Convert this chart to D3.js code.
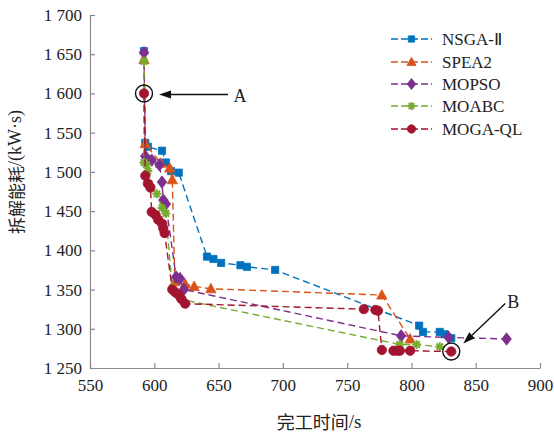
<!DOCTYPE html>
<html>
<head>
<meta charset="utf-8">
<script src="https://cdn.jsdelivr.net/npm/d3@7"></script>
<style>
  html, body { margin: 0; padding: 0; background: #fff; }
  svg { display: block; }
</style>
</head>
<body>
<svg id="chart"></svg>
<script>
(function() {
  var width = 554;
  var height = 435;
  var serif = '"Liberation Serif", "Times New Roman", serif';
  var cjk = '"Noto Sans CJK SC", sans-serif';

  var xTicks = [550, 600, 650, 700, 750, 800, 850, 900];
  var yTicks = [1250, 1300, 1350, 1400, 1450, 1500, 1550, 1600, 1650, 1700];

  var names = ['NSGA-Ⅱ', 'SPEA2', 'MOPSO', 'MOABC', 'MOGA-QL'];
  var colors = ['#0072BD', '#D95319', '#7E2F8E', '#77AC30', '#A2142F'];

  // NSGA-II
  var nsgaX = [592, 593, 595, 606, 609, 613, 619, 641, 646, 652, 667, 672, 694, 806, 809, 822, 826, 831];
  var nsgaY = [1654, 1537, 1532, 1527, 1512, 1501, 1499, 1392, 1389, 1384, 1381, 1379, 1375, 1304, 1296, 1296, 1293, 1288];
  // SPEA2
  var speaX = [592, 593, 605, 612, 614, 616, 624, 631, 644, 777, 799];
  var speaY = [1643, 1536, 1511, 1505, 1490, 1360, 1357, 1354, 1351, 1343, 1287];
  // MOPSO
  var mopsoX = [592, 593, 598, 604, 606, 607, 609, 617, 620, 623, 792, 829, 874];
  var mopsoY = [1652, 1520, 1515, 1509, 1487, 1464, 1459, 1366, 1364, 1350, 1291, 1289, 1287];
  // MOABC
  var moabcX = [592, 592, 594, 595, 602, 606, 609, 614, 617, 622, 791, 804, 822];
  var moabcY = [1641, 1512, 1509, 1501, 1472, 1454, 1447, 1352, 1345, 1337, 1280, 1280, 1277];
  // MOGA-QL
  var mogaX = [592, 593, 595, 597, 598, 601, 603, 606, 607, 608, 614, 616, 619, 621, 624, 763, 772, 774, 777, 786, 789, 791, 799, 831];
  var mogaY = [1600, 1495, 1485, 1480, 1449, 1445, 1439, 1434, 1428, 1422, 1350, 1347, 1343, 1338, 1332, 1325, 1324, 1323, 1273, 1272, 1272, 1272, 1272, 1271];

  var seriesX = [nsgaX, speaX, mopsoX, moabcX, mogaX];
  var seriesY = [nsgaY, speaY, mopsoY, moabcY, mogaY];
  var shapes = ['square', 'triangle', 'diamond', 'star', 'circle'];

  // 标注点 A / B
  var pointA = [592, 1600];
  var pointB = [831, 1271];

  var x = d3.scaleLinear().domain([550, 900]).range([90, 540]);
  var y = d3.scaleLinear().domain([1250, 1700]).range([368, 15]);

  var svg = d3.select('#chart')
    .attr('width', width)
    .attr('height', height);

  var fmt = d3.formatLocale({ decimal: '.', thousands: ' ', grouping: [3], currency: ['', ''] }).format(',');

  // 坐标轴
  var gx = svg.append('g')
    .attr('transform', 'translate(0,' + y(1250) + ')')
    .call(d3.axisBottom(x).tickValues(xTicks).tickSize(-5).tickSizeOuter(0).tickPadding(11).tickFormat(d3.format('d')));

  var gy = svg.append('g')
    .attr('transform', 'translate(' + x(550) + ',0)')
    .call(d3.axisLeft(y).tickValues(yTicks).tickSize(-5).tickSizeOuter(0).tickPadding(8).tickFormat(fmt));

  [gx, gy].forEach(function(g) {
    g.select('.domain').attr('stroke', '#8a8a8a').attr('stroke-width', 1.2);
    g.selectAll('.tick line').attr('stroke', '#8a8a8a').attr('stroke-width', 1.2);
    g.selectAll('.tick text')
      .attr('fill', '#222')
      .style('font-family', serif)
      .style('font-size', '17px');
  });

  // 轴标题
  var xl = svg.append('text')
    .attr('x', 319)
    .attr('y', 421)
    .attr('text-anchor', 'middle')
    .attr('dominant-baseline', 'central')
    .attr('fill', '#222')
    .style('font-family', cjk)
    .style('font-size', '18px');
  xl.append('tspan').text('完工时间');
  xl.append('tspan').style('font-family', serif).style('font-size', '19px').text('/s');

  var yl = svg.append('text')
    .attr('transform', 'translate(15,172) rotate(-90)')
    .attr('text-anchor', 'middle')
    .attr('dominant-baseline', 'central')
    .attr('fill', '#222')
    .style('font-family', cjk)
    .style('font-size', '17px');
  yl.append('tspan').text('拆解能耗');
  yl.append('tspan').style('font-family', serif).style('font-size', '18px').text('/(kW·s)');

  function markerPath(shape, s) {
    var h;
    if (shape === 'square') {
      h = s * 0.45;
      return 'M' + (-h) + ',' + (-h) + 'H' + h + 'V' + h + 'H' + (-h) + 'Z';
    }
    if (shape === 'triangle') {
      h = s * 0.6;
      return 'M0,' + (-h) + 'L' + (h * 0.95) + ',' + (h * 0.75) + 'L' + (-h * 0.95) + ',' + (h * 0.75) + 'Z';
    }
    if (shape === 'diamond') {
      return 'M0,' + (-s * 0.62) + 'L' + (s * 0.48) + ',0L0,' + (s * 0.62) + 'L' + (-s * 0.48) + ',0Z';
    }
    if (shape === 'star') {
      h = s * 0.5;
      var d = h * 0.72;
      return 'M' + (-h) + ',0H' + h + 'M0,' + (-h) + 'V' + h +
        'M' + (-d) + ',' + (-d) + 'L' + d + ',' + d + 'M' + (-d) + ',' + d + 'L' + d + ',' + (-d);
    }
    h = s * 0.52;
    return 'M' + h + ',0A' + h + ',' + h + ' 0 1,1 ' + (-h) + ',0A' + h + ',' + h + ' 0 1,1 ' + h + ',0Z';
  }

  var sizes = { square: 8, triangle: 9, diamond: 10, star: 9, circle: 9 };

  var line = d3.line()
    .x(function(d) { return x(d[0]); })
    .y(function(d) { return y(d[1]); });

  var plot = svg.append('g');

  seriesX.forEach(function(xs, i) {
    var pts = xs.map(function(v, j) { return [v, seriesY[i][j]]; });
    var g = plot.append('g');
    g.append('path')
      .datum(pts)
      .attr('d', line)
      .attr('fill', 'none')
      .attr('stroke', colors[i])
      .attr('stroke-width', 1.4)
      .attr('stroke-dasharray', '7,4');

    g.selectAll('.m')
      .data(pts)
      .enter()
      .append('path')
      .attr('transform', function(d) { return 'translate(' + x(d[0]) + ',' + y(d[1]) + ')'; })
      .attr('d', markerPath(shapes[i], sizes[shapes[i]]))
      .attr('fill', shapes[i] === 'star' ? 'none' : colors[i])
      .attr('stroke', colors[i])
      .attr('stroke-width', shapes[i] === 'star' ? 2 : 0.8);
  });

  // 图例
  var legend = svg.append('g');
  var legendY = [39, 62, 84, 106, 129];
  names.forEach(function(name, i) {
    var row = legend.append('g').attr('transform', 'translate(0,' + legendY[i] + ')');
    row.append('line')
      .attr('x1', 391).attr('x2', 432)
      .attr('y1', 0).attr('y2', 0)
      .attr('stroke', colors[i])
      .attr('stroke-width', 1.4)
      .attr('stroke-dasharray', '7,3');
    row.append('path')
      .attr('transform', 'translate(411.5,0)')
      .attr('d', markerPath(shapes[i], sizes[shapes[i]] - 1))
      .attr('fill', shapes[i] === 'star' ? 'none' : colors[i])
      .attr('stroke', colors[i])
      .attr('stroke-width', shapes[i] === 'star' ? 2 : 0.8);
    row.append('text')
      .attr('x', 442)
      .attr('y', 0)
      .attr('dy', '0.35em')
      .attr('fill', '#222')
      .style('font-family', serif)
      .style('font-size', '17px')
      .text(name);
  });

  // 标注 A、B
  var ax = x(pointA[0]), ay = y(pointA[1]);
  var bx = x(pointB[0]), by = y(pointB[1]);

  svg.append('circle')
    .attr('cx', ax).attr('cy', ay).attr('r', 8.5)
    .attr('fill', 'none').attr('stroke', '#111').attr('stroke-width', 1.4);
  svg.append('circle')
    .attr('cx', bx).attr('cy', by).attr('r', 8.5)
    .attr('fill', 'none').attr('stroke', '#111').attr('stroke-width', 1.4);

  function arrow(x1, y1, x2, y2) {
    var ang = Math.atan2(y2 - y1, x2 - x1);
    var len = 12, half = 4;
    var bxx = x2 - len * Math.cos(ang), byy = y2 - len * Math.sin(ang);
    svg.append('line')
      .attr('x1', x1).attr('y1', y1)
      .attr('x2', bxx).attr('y2', byy)
      .attr('stroke', '#111').attr('stroke-width', 1.4);
    svg.append('path')
      .attr('d', 'M' + x2 + ',' + y2 +
        'L' + (bxx + half * Math.sin(ang)) + ',' + (byy - half * Math.cos(ang)) +
        'L' + (bxx - half * Math.sin(ang)) + ',' + (byy + half * Math.cos(ang)) + 'Z')
      .attr('fill', '#111');
  }

  arrow(ax + 84, ay + 1, ax + 15, ay + 1);
  arrow(bx + 54, by - 48, bx + 12, by - 8);

  svg.append('text')
    .attr('x', ax + 96).attr('y', ay + 3)
    .attr('text-anchor', 'middle').attr('dominant-baseline', 'central')
    .style('font-family', serif).style('font-size', '18px').attr('fill', '#222')
    .text('A');
  svg.append('text')
    .attr('x', bx + 62).attr('y', by - 50)
    .attr('text-anchor', 'middle').attr('dominant-baseline', 'central')
    .style('font-family', serif).style('font-size', '18px').attr('fill', '#222')
    .text('B');
}());
</script>
</body>
</html>
